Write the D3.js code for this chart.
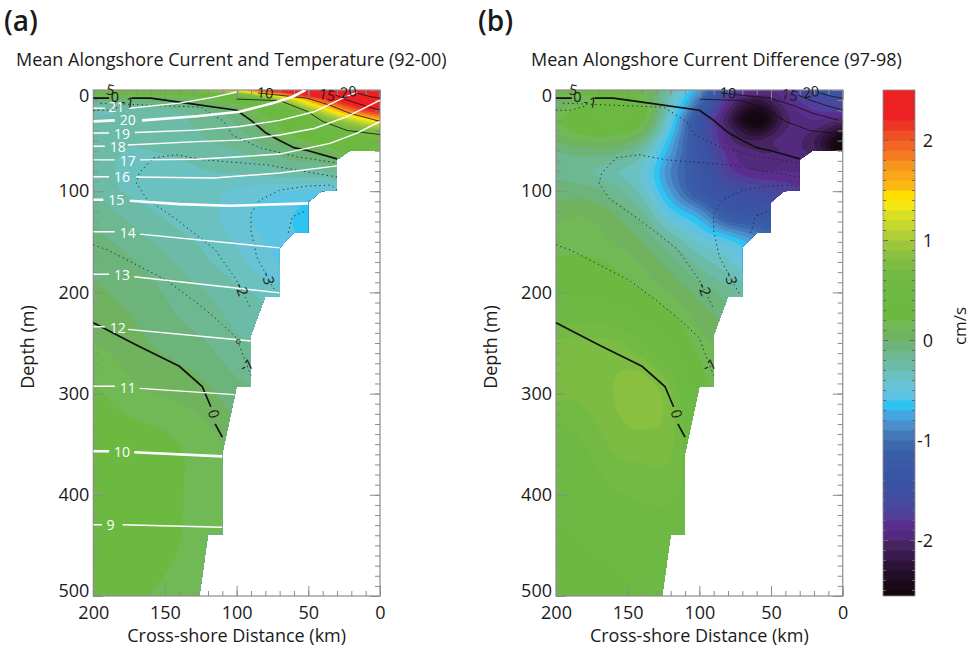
<!DOCTYPE html>
<html>
<head>
<meta charset="utf-8">
<script src="https://cdn.jsdelivr.net/npm/d3@7"></script>
<style>
  body { margin: 0; background: #fff; }
  svg { display: block; }
  text { font-family: "Open Sans", sans-serif; fill: #1a1a1a; }
</style>
</head>
<body>
<svg id="chart" width="971" height="648"></svg>
<script>
// grid the two current fields are read on (km offshore, m depth)
const gridKm = [200, 180, 160, 140, 120, 100, 80, 60, 40, 20, 0];
const gridDepth = [0, 5, 10, 20, 30, 40, 50, 60, 80, 100, 125, 150, 175, 200, 250, 300, 350, 400, 450, 500];

// panel (a): mean current, in colour bar units
const meanField = [
  [.35, .4, .45, .6, .9, 1.3, 2.2, 2.5, 2.5, 2.5, 2.5],
  [.15, .18, .2, .25, .35, .6, 1.2, 2.0, 2.45, 2.5, 2.5],
  [-.1, -.05, -.02, .02, .1, .3, .6, 1.2, 2.0, 2.4, 2.5],
  [-.3, -.28, -.25, -.2, -.1, 0, .3, .6, 1.2, 1.9, 2.3],
  [-.28, -.28, -.27, -.22, -.15, -.08, .15, .4, .7, 1.1, 1.5],
  [-.27, -.29, -.28, -.24, -.18, -.12, .03, .3, .5, .65, .8],
  [-.25, -.29, -.29, -.26, -.2, -.16, -.05, .12, .3, .5, .6],
  [-.22, -.3, -.3, -.28, -.24, -.2, -.12, -.02, .06, .3, .4],
  [-.22, -.32, -.34, -.33, -.3, -.28, -.25, -.2, -.2, -.1, 0],
  [-.2, -.3, -.34, -.36, -.37, -.42, -.47, -.5, -.52, -.5, -.5],
  [-.12, -.2, -.28, -.33, -.37, -.45, -.55, -.6, -.78, -.78, -.78],
  [-.07, -.12, -.2, -.27, -.33, -.41, -.5, -.58, -.6, -.6, -.6],
  [-.02, -.06, -.12, -.2, -.28, -.35, -.45, -.52, -.5, -.5, -.5],
  [.02, -.02, -.07, -.14, -.2, -.27, -.33, -.42, -.45, -.45, -.45],
  [.1, .06, 0, -.05, -.1, -.18, -.2, -.25, -.3, -.3, -.3],
  [.22, .15, .1, .08, .02, -.06, -.1, -.12, -.15, -.15, -.15],
  [.3, .28, .25, .2, .14, .05, 0, 0, 0, 0, 0],
  [.3, .3, .28, .21, .14, .1, .06, .06, .06, .06, .06],
  [.3, .3, .28, .2, .14, .12, .08, .08, .08, .08, .08],
  [.3, .28, .2, .15, .12, .1, .08, .08, .08, .08, .08]
];

// panel (b): 97-98 difference, in colour bar units
const diffField = [
  [.3, .35, .35, .25, -.25, -.8, -1.5, -1.85, -1.8, -1.5, -1.3],
  [.15, .2, .3, .15, -.3, -.9, -1.7, -2.0, -1.85, -1.6, -1.4],
  [-.02, .1, .3, .2, -.35, -1.0, -1.85, -2.2, -1.9, -1.7, -1.55],
  [.1, .3, .45, .3, -.4, -1.2, -2.0, -2.45, -2.0, -1.8, -1.75],
  [.2, .3, .45, .25, -.5, -1.4, -2.1, -2.6, -2.05, -1.9, -2.0],
  [.15, .25, .3, .1, -.6, -1.4, -2.0, -2.35, -2.0, -2.0, -2.3],
  [.03, .12, .1, -.1, -.7, -1.4, -1.95, -2.1, -1.95, -2.1, -2.6],
  [-.1, -.05, -.05, -.25, -.78, -1.35, -1.85, -2.0, -2.0, -2.05, -2.6],
  [-.12, -.18, -.28, -.42, -.9, -1.3, -1.75, -1.9, -1.9, -1.95, -2.2],
  [-.05, -.05, -.15, -.35, -.8, -1.25, -1.5, -1.6, -1.7, -1.8, -1.9],
  [.08, .1, .02, -.15, -.5, -.75, -1.2, -1.3, -1.4, -1.4, -1.4],
  [.15, .15, .1, 0, -.2, -.42, -.55, -.8, -1, -1, -1],
  [.25, .25, .2, .1, -.03, -.2, -.35, -.5, -.6, -.6, -.6],
  [.35, .38, .32, .22, .1, -.03, -.15, -.28, -.35, -.35, -.35],
  [.72, .72, .72, .6, .4, .15, .05, -.1, -.1, -.1, -.1],
  [.72, .72, .8, .88, .72, .3, .1, .05, .05, .05, .05],
  [.5, .6, .72, .75, .72, .4, .2, .2, .2, .2, .2],
  [.45, .5, .58, .62, .62, .5, .3, .3, .3, .3, .3],
  [.35, .4, .45, .5, .5, .4, .3, .3, .3, .3, .3],
  [.25, .3, .35, .4, .42, .4, .3, .3, .3, .3, .3]
];

// sea floor outline, km and m
const bottomLine = [[200, 0], [0, 0], [0, 60], [21, 60], [30, 69], [30, 99], [41, 100], [50, 111], [50, 141], [60, 141],
  [70, 156], [70, 204], [80, 204], [90, 242], [90, 293], [100, 293], [110, 359], [110, 439], [120, 439], [126, 500], [200, 500]];

// colour bar bands, bottom band first
const bandLevels = d3.range(51).map(i => -2.6 + i * 0.1);
const bandColors = ['#140810', '#1a0a18', '#230e27', '#2e1238', '#3a1a4e', '#46245f', '#532a7e', '#5b2d8e', '#50409c', '#47489e',
  '#3f4ea1', '#3a53a4', '#3a55a5', '#3a5aa7', '#3a5da9', '#3c68b0', '#4379ba', '#4a8ecb', '#45a5df',
  '#2dc3f2', '#5bc3e4', '#67c3d5', '#6bc0c0', '#6cbba6', '#6db890', '#6db47b', '#70b25e', '#70b955', '#6cb941',
  '#6cb941', '#6cb943', '#6eb944', '#73ba44', '#7cbc43', '#8ac040', '#9dc63b', '#afcf36', '#c5d82e', '#d7df23',
  '#f5e616', '#ffde00', '#fdb913', '#faa61a', '#f7941e', '#f47b20', '#f26522', '#f04e23', '#ee3524', '#ed2024', '#ed2024', '#ed2024'];
const barTicks = [-2, -1, 0, 1, 2];

// contour lines of the mean current, km and m
const zeroLine = [[200, 230], [170, 252], [140, 273], [124, 293], [118, 313], null, [115, 330], [110, 343]];
const zeroTop = [[200, 8], [189, 8], null, [173, 8], [160, 8], [135, 13], [100, 20], [90, 30], [80, 42], [70, 50], [60, 57], [50, 60], [30, 68]];
const solidLines = [
  [[100, 9], [70, 10.5], [51, 21], [40, 31], [23, 40], [0, 44]],
  [[85, 3], [51, 8], [35, 15], [21, 23], [0, 31]],
  [[31, 5], [23, 10], [12, 15], [0, 20]],
  [[16, 3], [7, 6.5], [0, 8]]
];
const dottedLines = [
  [[200, 153], [190, 158], [149, 188], [130, 208], [116, 224], [100, 245], [94, 268], [90, 282]],
  [[195, 13], [125, 17], [109, 31], [103, 44.5], [84, 57], [58, 66], [30, 72]],
  [[200, 20], [190, 20], [180, 16]],
  [[30, 86], [79, 74], [123, 69], [142, 64], [158, 67], [168, 82], [170, 92], [163, 107], [142, 128], [121, 151], [115, 158], [100, 188], [90, 216]],
  [[30, 99], [34, 94], [51, 95], [70, 99], [84, 109], [90, 122], [90, 139], [86, 165], [80, 181], null, [76, 192], [72, 201]],
  [[64, 141], [61, 125], [51, 119]]
];
const lineLabels = [
  ['5', 188, 0, 10], ['0', 185, 7, 0], ['-1', 176, 12, 8], ['10', 80, 3, 5], ['15', 37, 5, 10], ['20', 22, 2, -8],
  ['-3', 78, 186, 78], ['-2', 96.5, 197, 70], ['-1', 93, 272, -25], ['0', 116, 320, 75]
];

// isotherms for panel (a): temperature, label place, points
const temps = [21, 20, 19, 18, 17, 16, 15, 14, 13, 12, 11, 10, 9];
const heavyTemps = [20, 15, 10];
const tempLabelKm = [184, 176, 180, 183, 176, 180, 184, 176, 180, 183, 176, 180, 188];
const tempLabelDepth = [17, 30, 43, 56, 70, 86, 109, 141, 183, 235, 294, 358, 430];
const tempLines = [
  [[200, 18], [192, 18], null, [175, 18], [140, 13], [116, 7], [100, 2]],
  [[200, 31], [185, 30], null, [166, 30], [128, 26], [98, 21.5], [75, 13], [61, 6.6], [52, 0]],
  [[200, 42.5], [189, 42.5], null, [171, 42], [128, 39.6], [98, 36], [70, 30], [46, 21.5], [26, 8], [16, 2]],
  [[200, 55.6], [192, 55.6], null, [176, 54.4], [128, 51], [98, 49.5], [70, 44.5], [46, 38], [23, 26.4], [0, 10]],
  [[200, 69], [185, 69], null, [167.5, 69], [128, 68.5], [98, 66], [70, 63.3], [35, 52.7], [16, 42.7], [0, 31]],
  [[200, 85.7], [189, 85.7], null, [170, 86], [116, 87], [70, 82], [30, 75]],
  [[200, 108.5], [193, 108.5], null, [174.5, 109.5], [140, 112.8], [105, 114.4], [50, 112]],
  [[200, 140], [185, 140], null, [167.5, 142.4], [70, 156]],
  [[200, 182], [189, 182], null, [171.4, 184.6], [70, 200.5]],
  [[200, 234], [192, 234], null, [175.7, 236.5], [90, 248]],
  [[200, 292.8], [185, 292.8], null, [167.5, 294.8], [101.6, 301]],
  [[200, 357], [189, 357], null, [171.4, 358], [110, 362]],
  [[200, 429.6], [194, 429.6], null, [179.6, 429.6], [110, 432]]
];

const svg = d3.select('#chart');
const yScale = d3.scaleLinear().domain([0, 500]).range([90, 596]);
const majorKm = [200, 150, 100, 50, 0];
const minorKm = d3.range(0, 201, 10);
const majorDepth = [0, 100, 200, 300, 400, 500];
const minorDepth = d3.range(0, 501, 10);
const frameColor = '#8c8c8c';
const fine = 5; // contour cells per grid cell, only to round off the polygons

// cubic through the read values, used for drawing only
function cubicAt(v, t) {
  const i = Math.min(Math.floor(t), v.length - 2);
  const f = t - i;
  const p0 = v[Math.max(i - 1, 0)], p1 = v[i], p2 = v[i + 1], p3 = v[Math.min(i + 2, v.length - 1)];
  return 0.5 * (2 * p1 + (p2 - p0) * f + (2 * p0 - 5 * p1 + 4 * p2 - p3) * f * f + (3 * p1 - p0 - 3 * p2 + p3) * f * f * f);
}
function refine(field) {
  const cols = (gridKm.length - 1) * fine + 1;
  const rows = (gridDepth.length - 1) * fine + 1;
  const wide = field.map(r => d3.range(cols).map(c => cubicAt(r, c / fine)));
  const out = [];
  for (let r = 0; r < rows; r++) {
    for (let c = 0; c < cols; c++) out.push(Math.max(-2.59, cubicAt(wide.map(w => w[c]), r / fine)));
  }
  return { values: out, cols, rows };
}

// d3.contours works in cell index space, these carry it over to km and m
const colIndex = d3.scaleLinear().domain(gridKm.map((_, i) => i * fine + 0.5)).range(gridKm);
const rowIndex = d3.scaleLinear().domain(gridDepth.map((_, i) => i * fine + 0.5)).range(gridDepth);
const color = d3.scaleOrdinal(bandLevels, bandColors);

function drawPanel(id, left, right, field, title, letter, titleX, letterX, isIsotherms) {
  const xScale = d3.scaleLinear().domain([200, 0]).range([left, right]);
  const line = d3.line().defined(d => d).x(d => xScale(d[0])).y(d => yScale(d[1]));
  const g = svg.append('g').attr('class', id);

  g.append('clipPath').attr('id', 'clip-' + id)
    .append('path').attr('d', line(bottomLine) + 'Z');

  // filled contours, lowest band first
  const grid = refine(field);
  const contours = d3.contours().size([grid.cols, grid.rows]).thresholds(bandLevels)(grid.values);
  const toPlot = d3.geoTransform({
    point(x, y) { this.stream.point(xScale(colIndex(x)), yScale(rowIndex(y))); }
  });
  const path = d3.geoPath(toPlot);
  g.append('g').attr('clip-path', `url(#clip-${id})`)
    .selectAll('path').data(contours).join('path')
    .attr('d', path)
    .attr('fill', d => color(d.value));

  // axes all round, ticks pointing in
  const addAxis = (axis, major, minor, transform, labels) => {
    const small = g.append('g').attr('transform', transform).call(axis.tickValues(minor).tickSize(-5).tickFormat(''));
    small.select('.domain').remove();
    const big = g.append('g').attr('transform', transform).call(axis.tickValues(major).tickSize(-10).tickFormat(labels ? d3.format('d') : ''));
    big.select('.domain').remove();
    g.selectAll('.tick line').attr('stroke', frameColor);
    return big;
  };
  const bottom = addAxis(d3.axisBottom(xScale), majorKm, minorKm, `translate(0,${yScale(500)})`, true);
  addAxis(d3.axisTop(xScale), majorKm, minorKm, `translate(0,${yScale(0)})`, false)
    .selectAll('.tick line').attr('stroke', '#555');
  const leftAxis = addAxis(d3.axisLeft(yScale), majorDepth, minorDepth, `translate(${left},0)`, true);
  addAxis(d3.axisRight(yScale), majorDepth, minorDepth, `translate(${right},0)`, false);
  g.append('rect')
    .attr('x', left).attr('y', yScale(0))
    .attr('width', right - left).attr('height', yScale(500) - yScale(0))
    .attr('fill', 'none').attr('stroke', frameColor).attr('stroke-width', 1.2);

  bottom.selectAll('text').attr('y', 10).style('font-size', '18px').style('font-family', '"Open Sans", sans-serif').style('fill', '#1a1a1a');
  leftAxis.selectAll('text').attr('x', -4).style('font-size', '18px').style('font-family', '"Open Sans", sans-serif').style('fill', '#1a1a1a')
    .attr('dy', d => d === 0 ? '0.65em' : d === 500 ? '0' : '0.32em');

  // mean current contours
  const lines = g.append('g').attr('fill', 'none').attr('stroke', '#111');
  lines.selectAll('.solid').data(solidLines).join('path').attr('class', 'solid').attr('d', line).attr('stroke-width', 0.8);
  lines.selectAll('.dotted').data(dottedLines).join('path').attr('class', 'dotted').attr('d', line)
    .attr('stroke-width', 1).attr('stroke-dasharray', '1.2 3.4').attr('stroke', '#222');
  lines.selectAll('.zero').data([zeroLine, zeroTop]).join('path').attr('class', 'zero').attr('d', line).attr('stroke-width', 1.7);

  if (isIsotherms) {
    const white = g.append('g').attr('clip-path', `url(#clip-${id})`).attr('fill', 'none').attr('stroke', '#fff');
    white.selectAll('path').data(tempLines).join('path')
      .attr('d', line)
      .attr('stroke-width', (_, i) => heavyTemps.includes(temps[i]) ? 2.6 : 1.4);
    g.selectAll('.temp').data(temps).join('text').attr('class', 'temp')
      .attr('x', (_, i) => xScale(tempLabelKm[i]))
      .attr('y', (_, i) => yScale(tempLabelDepth[i]) + 5)
      .attr('text-anchor', 'middle')
      .style('font-size', '14px').style('fill', '#fff')
      .text(d => d);
  }

  g.selectAll('.line-label').data(isIsotherms ? [...lineLabels, ['o', 99, 248, 0]] : lineLabels).join('text')
    .attr('class', 'line-label')
    .attr('transform', d => `translate(${xScale(d[1])},${yScale(d[2])}) rotate(${d[3]})`)
    .attr('text-anchor', 'middle').attr('dy', '0.35em')
    .style('font-size', d => d[0] === 'o' ? '9px' : '14.5px')
    .text(d => d[0]);

  // titles
  g.append('text').attr('x', titleX).attr('y', 66).style('font-size', '18px').text(title);
  g.append('text').attr('x', letterX).attr('y', 31).style('font-size', '28px').style('font-weight', 600).text(letter);
  g.append('text').attr('x', (left + right) / 2).attr('y', 642).attr('text-anchor', 'middle')
    .style('font-size', '18px').text('Cross-shore Distance (km)');
  g.append('text').attr('transform', `translate(${left - 59},${yScale(250) + 4}) rotate(-90)`).attr('text-anchor', 'middle')
    .style('font-size', '18px').text('Depth (m)');
}

drawPanel('a', 93.3, 380, meanField, 'Mean Alongshore Current and Temperature (92-00)', '(a)', 16, 4, true);
drawPanel('b', 556, 842.7, diffField, 'Mean Alongshore Current Difference (97-98)', '(b)', 531, 478, false);

// colour bar
const barX = [883, 915];
const barY = d3.scaleLinear().domain([0, 2.5]).range([340, 90]);
const bar = svg.append('g').attr('class', 'bar');
bar.append('clipPath').attr('id', 'clip-bar').append('rect')
  .attr('x', barX[0]).attr('y', barY(2.5)).attr('width', barX[1] - barX[0]).attr('height', yScale(500) - barY(2.5));
bar.append('g').attr('clip-path', 'url(#clip-bar)')
  .selectAll('rect').data(bandLevels).join('rect')
  .attr('x', barX[0]).attr('width', barX[1] - barX[0])
  .attr('y', d => barY(d + 0.1)).attr('height', barY(0) - barY(0.1) + 0.5)
  .attr('fill', d => color(d));
const barMinor = d3.range(51).map(i => -2.5 + i * 0.1);
[[d3.axisRight, barX[0]], [d3.axisLeft, barX[1]]].forEach(([axis, x]) => {
  const a = bar.append('g').attr('transform', `translate(${x},0)`)
    .call(axis(barY).tickValues(barMinor).tickSize(3).tickFormat(''));
  a.select('.domain').remove();
  a.selectAll('line').attr('stroke', '#666');
  const b = bar.append('g').attr('transform', `translate(${x},0)`)
    .call(axis(barY).tickValues(barTicks).tickSize(5).tickFormat(''));
  b.select('.domain').remove();
  b.selectAll('line').attr('stroke', '#666');
});
bar.append('rect').attr('x', barX[0]).attr('y', barY(2.5))
  .attr('width', barX[1] - barX[0]).attr('height', yScale(500) - barY(2.5))
  .attr('fill', 'none').attr('stroke', frameColor).attr('stroke-width', 0.8);
bar.selectAll('.tick-label').data(barTicks).join('text').attr('class', 'tick-label')
  .attr('x', 933).attr('y', d => barY(d) + 6.5)
  .attr('text-anchor', 'end').style('font-size', '18px')
  .text(d => d);
bar.append('text').attr('transform', `translate(966,${barY(0) - 14}) rotate(-90)`).attr('text-anchor', 'middle')
  .style('font-size', '17px').text('cm/s');
</script>
</body>
</html>
